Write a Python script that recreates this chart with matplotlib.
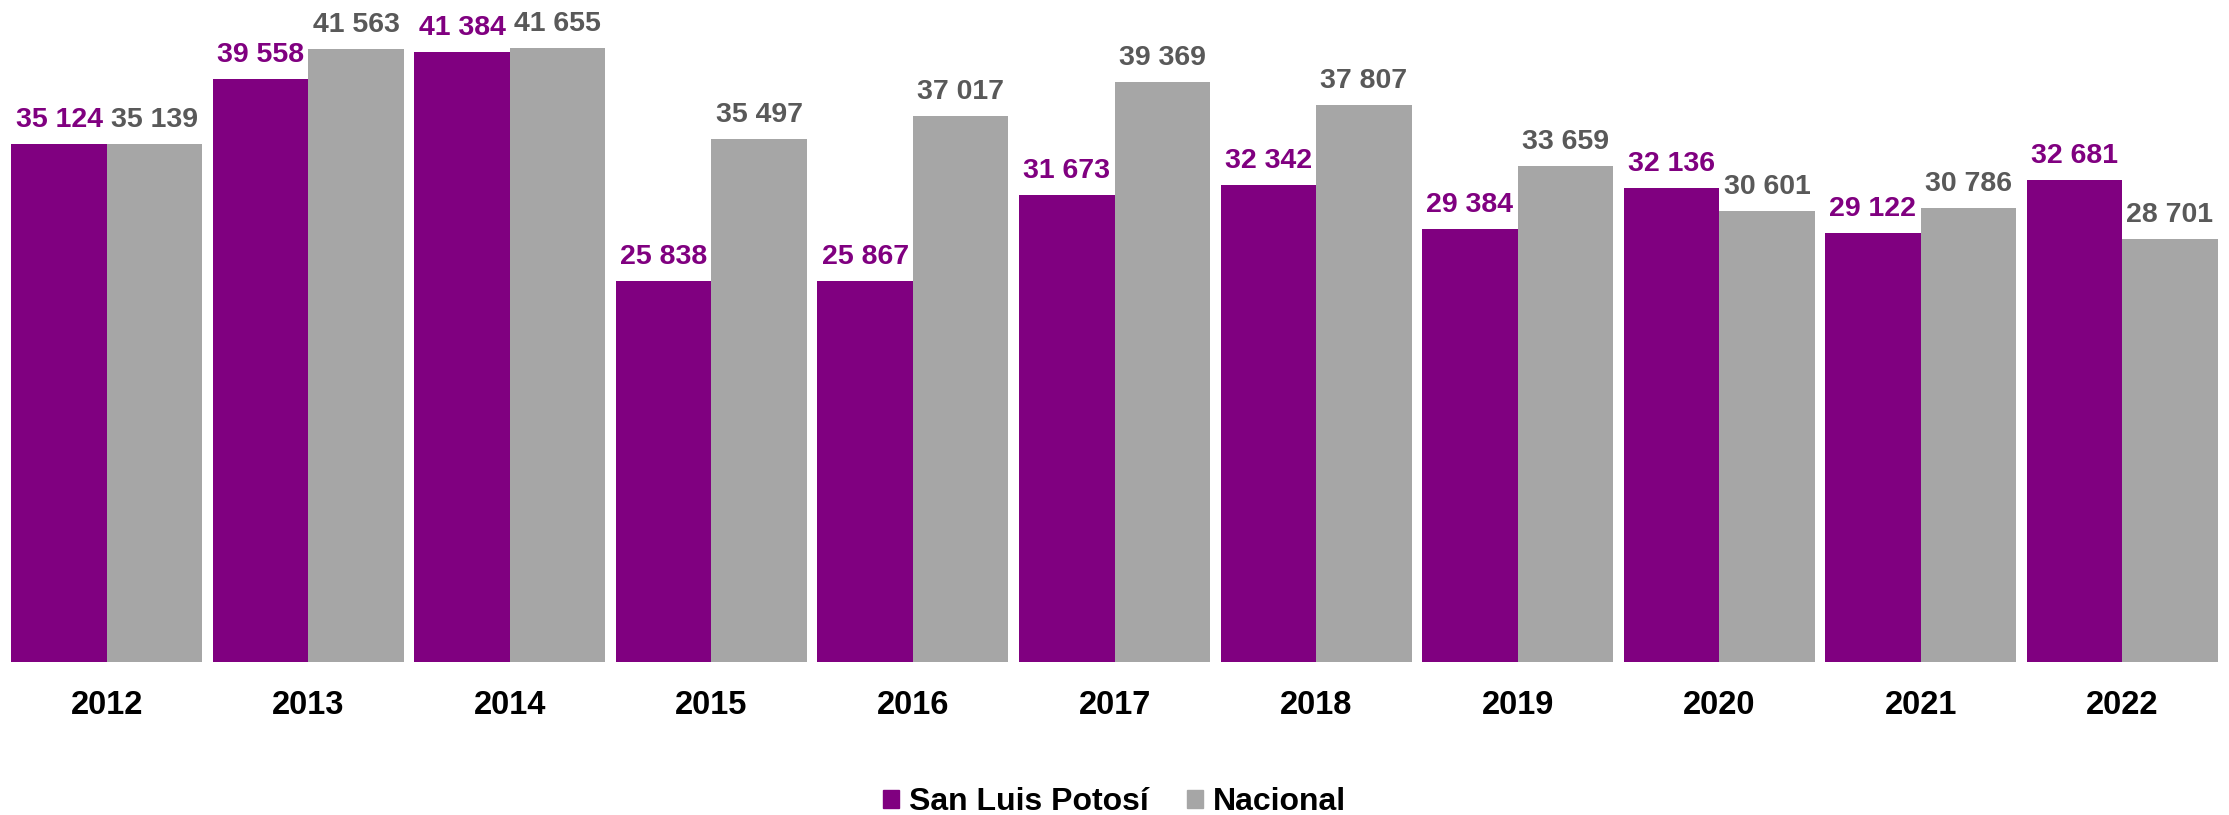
import numpy as np
import matplotlib.pyplot as plt
from matplotlib.patches import Patch

plt.rcParams['font.family'] = ['Liberation Sans', 'DejaVu Sans']

years    = ['2012', '2013', '2014', '2015', '2016', '2017', '2018', '2019', '2020', '2021', '2022']
slp      = [35124, 39558, 41384, 25838, 25867, 31673, 32342, 29384, 32136, 29122, 32681]
nacional = [35139, 41563, 41655, 35497, 37017, 39369, 37807, 33659, 30601, 30786, 28701]

c_slp, c_nac = '#800080', '#A6A6A6'
c_lab_nac = '#595959'

fig = plt.figure(figsize=(22.29, 8.15), dpi=100)
ax = fig.add_axes([0, 1 - 662/815, 1, 662/815])

x = np.arange(len(years))
w = 0.474
b1 = ax.bar(x - w/2, slp, w, color=c_slp)
b2 = ax.bar(x + w/2, nacional, w, color=c_nac)

fmt = lambda v: f"{v:,}".replace(",", " ")
for bars, vals, col in [(b1, slp, c_slp), (b2, nacional, c_lab_nac)]:
    for r, v in zip(bars, vals):
        ax.annotate(fmt(v), (r.get_x() + r.get_width()/2, v), xytext=(0, 8),
                    textcoords='offset points', ha='center', va='bottom',
                    fontsize=20.5, fontweight='bold', color=col)

ax.set_xlim(-0.5 - 0.03, len(years) - 0.5 + 0.03)
ax.set_ylim(0, 44912)
ax.set_yticks([])
ax.set_xticks(x)
ax.set_xticklabels(years, fontsize=23.5, fontweight='bold')
ax.tick_params(axis='x', length=0, pad=20)
for s in ax.spines.values():
    s.set_visible(False)

handles = [Patch(color=c_slp, label='San Luis Potosí'), Patch(color=c_nac, label='Nacional')]
fig.legend(handles=handles, loc='center', bbox_to_anchor=(0.5, 1 - 802/815), ncol=2,
           frameon=False, prop={'size': 23, 'weight': 'bold'},
           handlelength=0.5, handleheight=0.5, handletextpad=0.3, columnspacing=1.2)

fig.savefig('out.png', dpi=100)
